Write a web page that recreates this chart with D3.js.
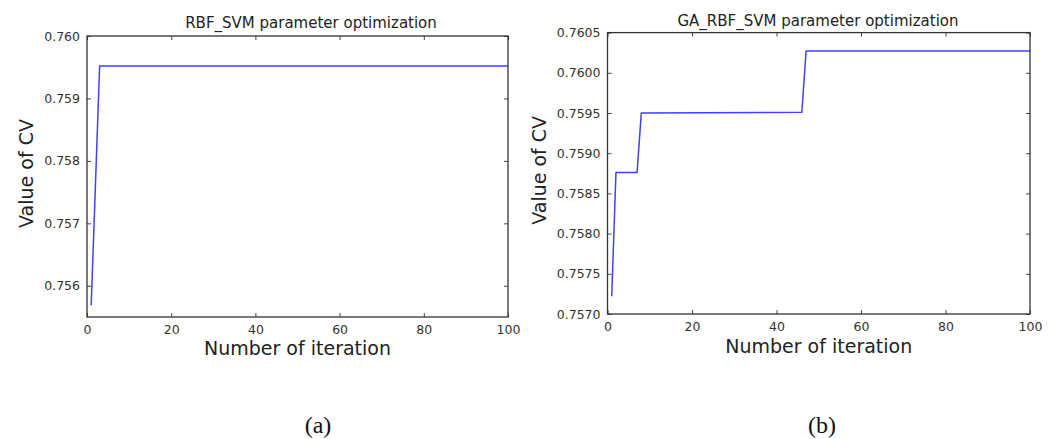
<!DOCTYPE html>
<html>
<head>
<meta charset="utf-8">
<script src="https://cdn.jsdelivr.net/npm/d3@7"></script>
<style>
  body { margin: 0; background: #fff; }
  svg { display: block; }
  .tick text { font-family: "DejaVu Sans", sans-serif; fill: #333; }
</style>
</head>
<body>
<svg id="chart" width="1053" height="439"></svg>
<script>
// (a) plain RBF SVM: best CV value where it changes
var iterA = [1, 3, 100];
var cvA = [0.75569, 0.75952, 0.75952];

// (b) GA tuned RBF SVM
var iterB = [1, 2, 7, 8, 46, 47, 100];
var cvB = [0.75722, 0.75876, 0.75876, 0.75950, 0.75951, 0.76027, 0.76027];

var xTicks = [0, 20, 40, 60, 80, 100];
var yTicksA = [0.756, 0.757, 0.758, 0.759, 0.760];
var yTicksB = [0.7570, 0.7575, 0.7580, 0.7585, 0.7590, 0.7595, 0.7600, 0.7605];

var svg = d3.select('#chart');
svg.append('rect').attr('width', 1053).attr('height', 439).attr('fill', '#fff');

function panel(opt) {
  var x = d3.scaleLinear().domain([0, 100]).range([opt.left, opt.right]);
  var y = d3.scaleLinear().domain(opt.yDomain).range([opt.bottom, opt.top]);
  var g = svg.append('g');

  var tickColor = '#444';
  // bottom / top axes, ticks pointing inward
  var bx = g.append('g').attr('transform', `translate(0,${opt.bottom})`)
    .call(d3.axisBottom(x).tickValues(xTicks).tickSize(-4).tickPadding(8).tickFormat(d3.format('d')));
  var tx = g.append('g').attr('transform', `translate(0,${opt.top})`)
    .call(d3.axisTop(x).tickValues(xTicks).tickSize(-4).tickFormat(''));
  var ly = g.append('g').attr('transform', `translate(${opt.left},0)`)
    .call(d3.axisLeft(y).tickValues(opt.yTicks).tickSize(-4).tickPadding(7).tickFormat(d3.format(opt.fmt)));
  var ry = g.append('g').attr('transform', `translate(${opt.right},0)`)
    .call(d3.axisRight(y).tickValues(opt.yTicks).tickSize(-4).tickFormat(''));
  [bx, tx, ly, ry].forEach(a => {
    a.select('.domain').remove();
    a.selectAll('.tick line').attr('stroke', tickColor);
    a.selectAll('.tick text').attr('font-size', 12.5);
  });

  // the line
  var pts = opt.iters.map((d, i) => ({it: d, v: opt.vals[i]}));
  var line = d3.line().x(d => x(d.it)).y(d => y(d.v));
  g.append('path')
    .datum(pts)
    .attr('fill', 'none')
    .attr('stroke', '#4040ff')
    .attr('stroke-width', 1.5)
    .attr('stroke-linejoin', 'round')
    .attr('d', line);

  // frame
  g.append('rect')
    .attr('x', opt.left).attr('y', opt.top)
    .attr('width', opt.right - opt.left).attr('height', opt.bottom - opt.top)
    .attr('fill', 'none').attr('stroke', '#333').attr('stroke-width', 1.3);

  g.append('text')
    .attr('x', opt.titleX).attr('y', opt.titleY)
    .attr('text-anchor', 'middle')
    .attr('font-family', 'DejaVu Sans, sans-serif').attr('font-size', 15).attr('fill', '#222')
    .text(opt.title);

  g.append('text')
    .attr('x', (opt.left + opt.right) / 2).attr('y', opt.xLabelY)
    .attr('text-anchor', 'middle')
    .attr('font-family', 'DejaVu Sans, sans-serif').attr('font-size', 19).attr('fill', '#222')
    .text('Number of iteration');

  g.append('text')
    .attr('transform', `translate(${opt.yLabelX},${(opt.top + opt.bottom) / 2 - 3}) rotate(-90)`)
    .attr('text-anchor', 'middle')
    .attr('font-family', 'DejaVu Sans, sans-serif').attr('font-size', 19).attr('fill', '#222')
    .text('Value of CV');

  g.append('text')
    .attr('x', opt.capX).attr('y', 433)
    .attr('text-anchor', 'middle')
    .attr('font-family', 'Liberation Serif, Times New Roman, serif').attr('font-size', 24).attr('fill', '#111')
    .text(opt.caption);
}

panel({
  left: 87, right: 508, top: 36, bottom: 317,
  yDomain: [0.7555, 0.760], yTicks: yTicksA, fmt: '.3f',
  iters: iterA, vals: cvA,
  title: 'RBF_SVM parameter optimization', titleX: 311, titleY: 28,
  xLabelY: 355, yLabelX: 33, capX: 318, caption: '(a)'
});

panel({
  left: 607.5, right: 1030, top: 32.6, bottom: 314,
  yDomain: [0.7570, 0.7605], yTicks: yTicksB, fmt: '.4f',
  iters: iterB, vals: cvB,
  title: 'GA_RBF_SVM parameter optimization', titleX: 818, titleY: 25.5,
  xLabelY: 352.5, yLabelX: 545.5, capX: 822, caption: '(b)'
});
</script>
</body>
</html>
